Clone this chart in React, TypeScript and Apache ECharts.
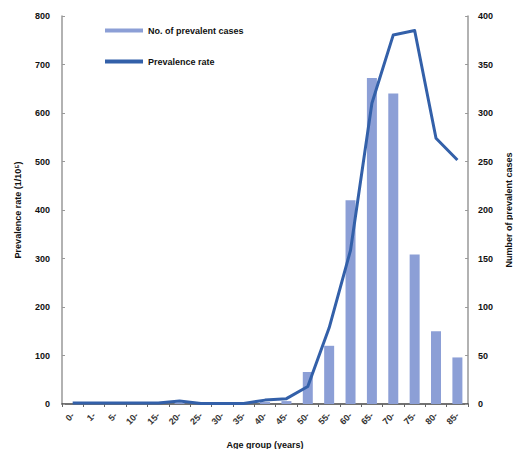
import React, { useEffect, useRef } from "react";
import * as echarts from "echarts";

const categories = ["0-", "1-", "5-", "10-", "15-", "20-", "25-", "30-", "35-", "40-", "45-", "50-", "55-", "60-", "65-", "70-", "75-", "80-", "85-"];
const prevalentCases = [0, 0, 0, 0, 0, 1, 0, 0, 0, 2, 3, 33, 60, 210, 336, 320, 154, 75, 48];
const prevalenceRate = [2, 2, 2, 2, 2, 6, 1, 1, 1, 8, 11, 36, 157, 317, 620, 761, 770, 548, 503];
const leftTicks = [0, 100, 200, 300, 400, 500, 600, 700, 800];
const rightTicks = [0, 50, 100, 150, 200, 250, 300, 350, 400];

const FONT = "Liberation Sans";

export default function App() {
  const ref = useRef<HTMLDivElement>(null);
  useEffect(() => {
    if (!ref.current) return;
    const chart = echarts.init(ref.current, null, { renderer: "svg" });
    const axisText = { fontFamily: FONT, fontSize: 9, fontWeight: "bold" as const, color: "#111" };
    chart.setOption({
      animation: false,
      backgroundColor: "#fff",
      grid: { left: 62, right: 48, top: 16, bottom: 53, containLabel: false },
      legend: {
        orient: "vertical",
        left: 100,
        top: 21,
        itemGap: 22,
        itemWidth: 38,
        itemHeight: 4,
        textStyle: { fontFamily: FONT, fontSize: 9, fontWeight: "bold", color: "#111" },
        data: [
          { name: "No. of prevalent cases", icon: "rect" },
          { name: "Prevalence rate", icon: "rect" },
        ],
      },
      xAxis: {
        type: "category",
        data: categories,
        name: "Age group (years)",
        nameLocation: "middle",
        nameGap: 36,
        nameTextStyle: axisText,
        axisLine: { lineStyle: { color: "#444", width: 1.5 } },
        axisTick: { show: true, alignWithLabel: false, length: 3, lineStyle: { color: "#666" } },
        axisLabel: { ...axisText, fontSize: 9, rotate: 45, interval: 0, margin: 10, color: "#333" },
      },
      yAxis: [
        {
          type: "value",
          min: leftTicks[0],
          max: leftTicks[leftTicks.length - 1],
          interval: 100,
          name: "Prevalence rate (1/10⁵)",
          nameLocation: "middle",
          nameGap: 40,
          nameRotate: 90,
          nameTextStyle: axisText,
          axisLine: { show: true, lineStyle: { color: "#999", width: 1.5 } },
          axisTick: { show: true, inside: true, length: 3, lineStyle: { color: "#999" } },
          axisLabel: { ...axisText, margin: 12 },
          splitLine: { show: false },
        },
        {
          type: "value",
          min: rightTicks[0],
          max: rightTicks[rightTicks.length - 1],
          interval: 50,
          name: "Number of prevalent cases",
          nameLocation: "middle",
          nameGap: 33,
          nameRotate: 90,
          nameTextStyle: axisText,
          axisLine: { show: true, lineStyle: { color: "#999", width: 1.5 } },
          axisTick: { show: true, inside: true, length: 3, lineStyle: { color: "#999" } },
          axisLabel: { ...axisText, margin: 10 },
          splitLine: { show: false },
        },
      ],
      series: [
        {
          name: "No. of prevalent cases",
          type: "bar",
          yAxisIndex: 1,
          data: prevalentCases,
          barWidth: 10,
          itemStyle: { color: "#8C9FD6" },
        },
        {
          name: "Prevalence rate",
          type: "line",
          yAxisIndex: 0,
          data: prevalenceRate,
          symbol: "none",
          smooth: false,
          lineStyle: { color: "#3360A9", width: 3, join: "round" },
          itemStyle: { color: "#3360A9" },
        },
      ],
    });
    return () => chart.dispose();
  }, []);
  return <div ref={ref} style={{ width: 521, height: 457, margin: -8 }} />;
}
